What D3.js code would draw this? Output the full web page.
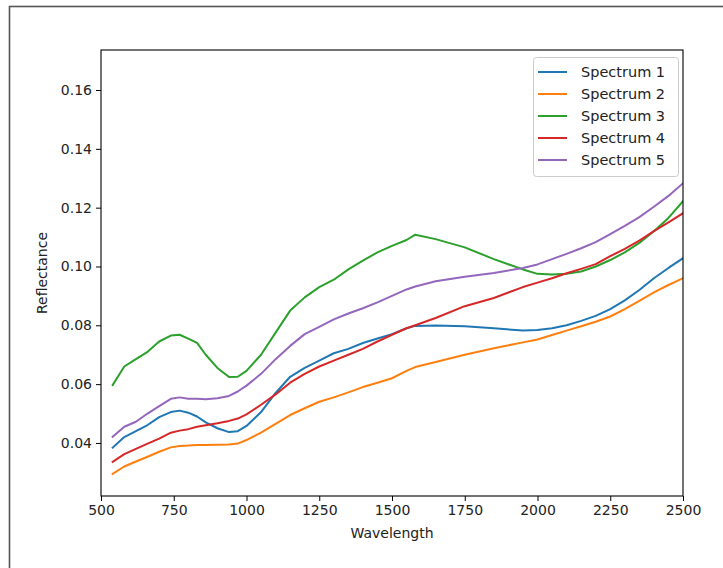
<!DOCTYPE html>
<html>
<head>
<meta charset="utf-8">
<script src="https://cdn.jsdelivr.net/npm/d3@7"></script>
<style>
  html, body { margin: 0; padding: 0; background: #fff; }
  svg { display: block; font-family: "DejaVu Sans", sans-serif; }
</style>
</head>
<body>
<svg id="chart" width="723" height="568"></svg>
<script>
const wavelengths = [540, 580, 620, 660, 700, 740, 770, 800, 830, 860, 900, 940, 970, 1000, 1050, 1100, 1150, 1200, 1250, 1300, 1350, 1400, 1450, 1500, 1550, 1580, 1650, 1750, 1850, 1950, 2000, 2050, 2100, 2150, 2200, 2250, 2300, 2350, 2400, 2450, 2500];

const spectrum1 = [0.0384, 0.0420, 0.0440, 0.0461, 0.0488, 0.0505, 0.0510, 0.0503, 0.0490, 0.0470, 0.0450, 0.0437, 0.0440, 0.0458, 0.0505, 0.0570, 0.0625, 0.0655, 0.0680, 0.0705, 0.0720, 0.0740, 0.0755, 0.0770, 0.0790, 0.0798, 0.0799, 0.0797, 0.0790, 0.0782, 0.0784, 0.0790, 0.0800, 0.0815, 0.0832, 0.0855, 0.0885, 0.0920, 0.0960, 0.0995, 0.1028];
const spectrum2 = [0.0295, 0.0320, 0.0337, 0.0353, 0.0370, 0.0385, 0.0390, 0.0391, 0.0393, 0.0393, 0.0394, 0.0395, 0.0398, 0.0410, 0.0435, 0.0465, 0.0495, 0.0518, 0.0540, 0.0555, 0.0572, 0.0590, 0.0605, 0.0620, 0.0645, 0.0658, 0.0675, 0.0700, 0.0722, 0.0742, 0.0752, 0.0767, 0.0782, 0.0797, 0.0812, 0.0830, 0.0855, 0.0883, 0.0912, 0.0937, 0.0960];
const spectrum3 = [0.0597, 0.0660, 0.0685, 0.0710, 0.0745, 0.0765, 0.0768, 0.0755, 0.0740, 0.0700, 0.0655, 0.0624, 0.0625, 0.0645, 0.0700, 0.0775, 0.0850, 0.0895, 0.0930, 0.0955, 0.0990, 0.1020, 0.1048, 0.1070, 0.1090, 0.1108, 0.1093, 0.1065, 0.1025, 0.0990, 0.0975, 0.0973, 0.0975, 0.0983, 0.1000, 0.1022, 0.1048, 0.1080, 0.1120, 0.1165, 0.1222];
const spectrum4 = [0.0336, 0.0362, 0.0380, 0.0398, 0.0415, 0.0435, 0.0442, 0.0447, 0.0455, 0.0460, 0.0467, 0.0475, 0.0483, 0.0497, 0.0530, 0.0565, 0.0605, 0.0635, 0.0660, 0.0680, 0.0700, 0.0720, 0.0745, 0.0768, 0.0790, 0.0800, 0.0825, 0.0865, 0.0893, 0.0930, 0.0945, 0.0960, 0.0977, 0.0992, 0.1008, 0.1035, 0.1060, 0.1088, 0.1120, 0.1150, 0.1181];
const spectrum5 = [0.0421, 0.0455, 0.0472, 0.0500, 0.0525, 0.0550, 0.0555, 0.0550, 0.0550, 0.0549, 0.0552, 0.0560, 0.0575, 0.0595, 0.0635, 0.0685, 0.0730, 0.0770, 0.0795, 0.0820, 0.0840, 0.0858, 0.0878, 0.0900, 0.0922, 0.0932, 0.0950, 0.0965, 0.0978, 0.0995, 0.1007, 0.1025, 0.1043, 0.1062, 0.1083, 0.1110, 0.1138, 0.1168, 0.1203, 0.1240, 0.1283];

const seriesNames = ["Spectrum 1", "Spectrum 2", "Spectrum 3", "Spectrum 4", "Spectrum 5"];
const seriesColors = ["#1f77b4", "#ff7f0e", "#2ca02c", "#d62728", "#9467bd"];
const xTicks = [500, 750, 1000, 1250, 1500, 1750, 2000, 2250, 2500];
const yTicks = [0.04, 0.06, 0.08, 0.10, 0.12, 0.14, 0.16];

const allSeries = [spectrum1, spectrum2, spectrum3, spectrum4, spectrum5];

(function () {
const svg = d3.select("#chart");
const pL = 101, pT = 50, pR = 683, pB = 496;

// outer frame (cropped on right and bottom)
svg.append("rect")
  .attr("x", 9.5).attr("y", 6.5)
  .attr("width", 760).attr("height", 600)
  .attr("fill", "none").attr("stroke", "#555").attr("stroke-width", 1.6);

const x = d3.scaleLinear().domain([500, 2500]).range([pL, pR]);
const y = d3.scaleLinear().domain([0.02197, 0.1736]).range([pB, pT]);

svg.append("clipPath").attr("id", "clip")
  .append("rect").attr("x", pL).attr("y", pT).attr("width", pR - pL).attr("height", pB - pT);

const line = d3.line().x((d, i) => x(wavelengths[i])).y(d => y(d));

const plot = svg.append("g").attr("clip-path", "url(#clip)");
allSeries.forEach((s, k) => {
  plot.append("path")
    .datum(s)
    .attr("d", line)
    .attr("fill", "none")
    .attr("stroke", seriesColors[k])
    .attr("stroke-width", 2)
    .attr("stroke-linejoin", "round")
    .attr("stroke-linecap", "square");
});

// axes
const xAxis = d3.axisBottom(x).tickValues(xTicks).tickFormat(d3.format("d")).tickSize(5).tickPadding(4);
const yAxis = d3.axisLeft(y).tickValues(yTicks).tickFormat(d3.format(".2f")).tickSize(5).tickPadding(4);

const gx = svg.append("g").attr("transform", `translate(0,${pB})`).call(xAxis);
const gy = svg.append("g").attr("transform", `translate(${pL},0)`).call(yAxis);
[gx, gy].forEach(g => {
  g.select(".domain").remove();
  g.selectAll(".tick line").attr("stroke", "#000").attr("stroke-width", 1);
  g.selectAll(".tick text").attr("fill", "#222").style("font-size", "14px").style("font-family", "DejaVu Sans, sans-serif");
});

// spines
svg.append("rect")
  .attr("x", pL).attr("y", pT).attr("width", pR - pL).attr("height", pB - pT)
  .attr("fill", "none").attr("stroke", "#000").attr("stroke-width", 1.1);

// axis labels
svg.append("text")
  .attr("x", (pL + pR) / 2).attr("y", 538)
  .attr("text-anchor", "middle").attr("fill", "#222")
  .style("font-size", "14px")
  .text("Wavelength");
svg.append("text")
  .attr("transform", `translate(47,${(pT + pB) / 2}) rotate(-90)`)
  .attr("text-anchor", "middle").attr("fill", "#222")
  .style("font-size", "14px")
  .text("Reflectance");

// legend
const lg = svg.append("g");
lg.append("rect")
  .attr("x", 533.5).attr("y", 57.5).attr("width", 145).attr("height", 119)
  .attr("rx", 3).attr("fill", "#fff").attr("fill-opacity", 0.8)
  .attr("stroke", "#ccc").attr("stroke-width", 1);
seriesNames.forEach((name, k) => {
  const cy = 72 + k * 22;
  lg.append("line")
    .attr("x1", 538).attr("x2", 567).attr("y1", cy).attr("y2", cy)
    .attr("stroke", seriesColors[k]).attr("stroke-width", 2);
  lg.append("text")
    .attr("x", 581).attr("y", cy).attr("dy", "0.36em")
    .attr("fill", "#222").style("font-size", "14.5px")
    .text(name);
});
})();
</script>
</body>
</html>
